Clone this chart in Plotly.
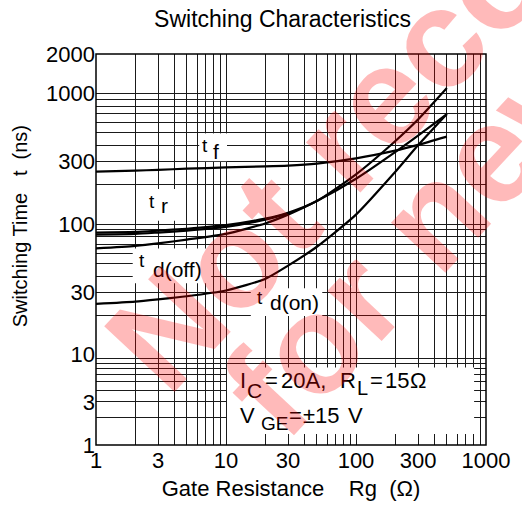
import numpy as np
import plotly.graph_objects as go

# ---------------- data ----------------
rg = [1, 2, 3, 5, 10, 20, 30, 50, 100, 200, 300, 500]
t_f = [252, 256, 260, 265, 271, 276, 280, 290, 318, 364, 403, 466]
t_r = [86, 87, 89, 92, 98, 110, 122, 150, 240, 430, 630, 1097]
t_r2 = [83, 84, 86, 89, 95, 108, 120]
rg_r2 = [1, 2, 3, 5, 10, 20, 30]
t_doff = [65, 68, 71, 76, 84, 101, 118, 150, 222, 355, 475, 694]
t_don = [24.5, 25.5, 26.5, 28, 31, 38, 48, 67, 118, 250, 400, 694]

x_ticks = [1, 3, 10, 30, 100, 300, 1000]
y_ticks_upper = [10, 30, 100, 300, 1000, 2000]
y_ticks_lower = [1, 3]

# ---------------- geometry helpers (pixels -> paper) ----------------
W, H = 522, 508
L, R, T, B = 96, 489, 54, 448
def px(x):
    return (x - L) / (R - L)
def py(y):
    return (B - y) / (B - T)

y_split = py(357)

fig = go.Figure()
line = dict(color="black", width=2.2)
for ys, xs in [(t_f, rg), (t_r, rg), (t_r2, rg_r2), (t_doff, rg), (t_don, rg)]:
    fig.add_trace(go.Scatter(x=xs, y=ys, mode="lines", line=dict(shape="spline", smoothing=0.6, **line),
                             xaxis="x", yaxis="y", hoverinfo="skip", showlegend=False))
# empty trace to create the lower subplot
fig.add_trace(go.Scatter(x=[1], y=[1], mode="markers", marker=dict(opacity=0),
                         xaxis="x", yaxis="y2", hoverinfo="skip", showlegend=False))

xgrid = [m * 10 ** d for d in range(3) for m in range(1, 10)] + [1000]
ygrid_up = [m * 10 ** d for d in range(1, 3) for m in range(1, 10)] + [1000, 2000]
ygrid_lo = [m for m in range(1, 10)] + [10]

def labels(vals, shown):
    return [(f"{v:g}" if v in shown else "") for v in vals]

gridc = "#1a1a1a"
font = dict(family="Liberation Sans, Arial, sans-serif", color="black")

fig.update_layout(
    width=W, height=H,
    margin=dict(l=L, r=W - R, t=T, b=H - B),
    paper_bgcolor="white", plot_bgcolor="white",
    font=dict(size=21, **font),
    title=dict(text="Switching Characteristics", xref="paper", x=px(284), xanchor="center",
               y=1 - 19 / H, yanchor="middle", font=dict(size=23, **font)),
    xaxis=dict(type="log", range=[0, 3], tickvals=xgrid, ticktext=labels(xgrid, x_ticks),
               showgrid=True, gridcolor=gridc, gridwidth=1, ticks="", zeroline=False,
               anchor="y2", tickfont=dict(size=22, **font),
               title=dict(text="Gate Resistance    Rg  (Ω)", font=dict(size=22, **font), standoff=8)),
    yaxis=dict(type="log", range=[1, np.log10(2000)], domain=[y_split, 1],
               tickvals=ygrid_up, ticktext=labels(ygrid_up, y_ticks_upper),
               showgrid=True, gridcolor=gridc, gridwidth=1, ticks="", zeroline=False,
               tickfont=dict(size=22, **font), anchor="x"),
    yaxis2=dict(type="log", range=[0, 1], domain=[0, y_split],
                tickvals=ygrid_lo, ticktext=labels(ygrid_lo, y_ticks_lower),
                showgrid=True, gridcolor=gridc, gridwidth=1, ticks="", zeroline=False,
                tickfont=dict(size=22, **font), anchor="x"),
)

# y axis title
fig.add_annotation(text="Switching Time   t  (ns)", xref="paper", yref="paper",
                   x=px(19), y=py(228), xanchor="center", yanchor="middle",
                   textangle=-90, showarrow=False, font=dict(size=20, **font))

# plot border
fig.add_shape(type="rect", xref="paper", yref="paper", x0=0, x1=1, y0=0, y1=1,
              line=dict(color="black", width=1.5), layer="above")

# condition box
fig.add_shape(type="rect", xref="paper", yref="paper", x0=px(228), x1=px(477),
              y0=py(437), y1=py(370), fillcolor="white", line=dict(width=0), layer="above")

def txt(s, x, y, size=17, anchor="left"):
    fig.add_annotation(text=s, xref="paper", yref="paper", x=px(x), y=py(y),
                       xanchor=anchor, yanchor="middle", showarrow=False,
                       font=dict(size=size, **font), borderpad=0)

# curve labels with white backgrounds
def curve_label(sub, x0, x1, y0, y1, tx, ty, sx, sy):
    fig.add_shape(type="rect", xref="paper", yref="paper", x0=px(x0), x1=px(x1),
                  y0=py(y1), y1=py(y0), fillcolor="white", line=dict(width=0), layer="above")
    txt("t", tx, ty, size=19)
    txt(sub, sx, sy, size=21)

curve_label("f", 200, 228, 134, 162, 202, 146, 213, 152)
curve_label("r", 143, 176, 190, 222, 148, 203, 160, 207)
curve_label("d(off)", 133, 212, 250, 285, 138, 262, 152, 271)
curve_label("d(on)", 252, 324, 290, 318, 257, 299, 270, 304)

# conditions
for s, x, y, sz in [("I", 240, 383, 22), ("C", 247, 393, 21), ("=", 265, 383, 22),
                    ("20A,", 281, 383, 22), ("R", 341, 383, 22), ("L", 358, 391, 20),
                    ("=", 371, 383, 22), ("15", 386, 383, 22), ("Ω", 411, 383, 22),
                    ("V", 240, 418, 22), ("GE", 261, 426, 19), ("=", 289, 418, 22),
                    ("±15", 304, 418, 22), ("V", 349, 418, 22)]:
    txt(s, x, y, size=sz)

# watermark
wm_font = dict(family="Liberation Sans, Arial, sans-serif", size=140, color="rgba(255,0,0,0.27)")
fig.add_annotation(text="<b>Not recommended</b>", xref="paper", yref="paper",
                   x=px(555), y=py(-85), xanchor="center", yanchor="middle", showarrow=False,
                   textangle=-47, font=wm_font)
fig.add_annotation(text="<b>for new design</b>", xref="paper", yref="paper",
                   x=px(590), y=py(50), xanchor="center", yanchor="middle", showarrow=False,
                   textangle=-47, font=wm_font)

fig.write_html("out.html", config={"displayModeBar": False, "staticPlot": True},
               post_script="document.body.style.margin='0px';")
